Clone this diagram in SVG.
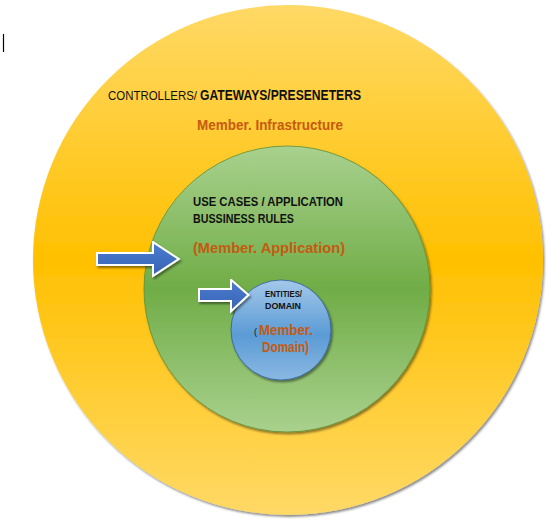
<svg xmlns="http://www.w3.org/2000/svg" width="560" height="525" viewBox="0 0 560 525">
<defs>
<linearGradient id="gOuter" x1="0" y1="0" x2="0" y2="1">
<stop offset="0" stop-color="#FFD966"/>
<stop offset="0.5" stop-color="#FFC000"/>
<stop offset="1" stop-color="#FFD966"/>
</linearGradient>
<linearGradient id="gGreen" x1="0" y1="0" x2="0" y2="1">
<stop offset="0" stop-color="#A9D18E"/>
<stop offset="0.5" stop-color="#70AD47"/>
<stop offset="1" stop-color="#A9D18E"/>
</linearGradient>
<linearGradient id="gBlue" x1="0" y1="0" x2="0" y2="1">
<stop offset="0" stop-color="#A4C8EA"/>
<stop offset="0.55" stop-color="#5B9BD5"/>
<stop offset="1" stop-color="#8AB8E3"/>
</linearGradient>
<linearGradient id="gArrow" x1="0" y1="0" x2="0" y2="1">
<stop offset="0" stop-color="#4A7BD0"/>
<stop offset="1" stop-color="#3A64B4"/>
</linearGradient>
<filter id="sh" x="-10%" y="-10%" width="130%" height="130%">
<feDropShadow dx="1.5" dy="2" stdDeviation="1" flood-color="#000" flood-opacity="0.45"/>
</filter>
</defs>
<style>
.t{font-family:"Liberation Sans",Arial,sans-serif;fill:#111;}
.b{font-weight:bold;}
.o{font-family:"Liberation Sans",Arial,sans-serif;font-weight:bold;fill:#C55A11;}
.arrow{fill:url(#gArrow);stroke:#fff;stroke-width:4;stroke-linejoin:miter;paint-order:stroke;filter:url(#sh);}
</style>
<rect width="560" height="525" fill="#fff"/>
<line x1="3.5" y1="34" x2="3.5" y2="52" stroke="#000" stroke-width="1.2"/>
<g id="infrastructure">
<circle cx="288" cy="260" r="255" fill="url(#gOuter)" filter="url(#sh)"/>
<text class="t" x="108" y="100" font-size="13" textLength="89" lengthAdjust="spacingAndGlyphs">CONTROLLERS/</text>
<text class="t b" x="200" y="100" font-size="14" textLength="161" lengthAdjust="spacingAndGlyphs">GATEWAYS/PRESENETERS</text>
<text class="o" x="197" y="130" font-size="14.5" textLength="146" lengthAdjust="spacingAndGlyphs">Member. Infrastructure</text>
</g>
<g id="application">
<circle cx="287" cy="289" r="143" fill="url(#gGreen)" stroke="#5E8F3A" stroke-width="0.8" filter="url(#sh)"/>
<text class="t b" x="193" y="206" font-size="13" textLength="150" lengthAdjust="spacingAndGlyphs">USE CASES / APPLICATION</text>
<text class="t b" x="193" y="223" font-size="13" textLength="101" lengthAdjust="spacingAndGlyphs">BUSSINESS RULES</text>
<text class="o" x="193" y="253" font-size="15.5" textLength="152" lengthAdjust="spacingAndGlyphs">(Member. Application)</text>
</g>
<g id="domain">
<circle cx="281" cy="330" r="50" fill="url(#gBlue)" stroke="#2F5F9A" stroke-width="0.8" filter="url(#sh)"/>
<text class="t b" x="265" y="297" font-size="8.5" textLength="37" lengthAdjust="spacingAndGlyphs">ENTITIES/</text>
<text class="t b" x="265" y="309" font-size="8.5" textLength="36" lengthAdjust="spacingAndGlyphs">DOMAIN</text>
<text class="t" x="254" y="335" font-size="9">(</text>
<text class="o" x="259" y="335" font-size="14" textLength="54" lengthAdjust="spacingAndGlyphs">Member.</text>
<text class="o" x="262" y="352" font-size="14" textLength="47" lengthAdjust="spacingAndGlyphs">Domain)</text>
</g>
<g id="connectors">
<path class="arrow" d="M98,254 L154,254 L154,244 L177,259 L154,274 L154,264 L98,264 Z"/>
<path class="arrow" d="M200,290 L232,290 L232,282 L247,295 L232,309 L232,300 L200,300 Z"/>
</g>
</svg>
